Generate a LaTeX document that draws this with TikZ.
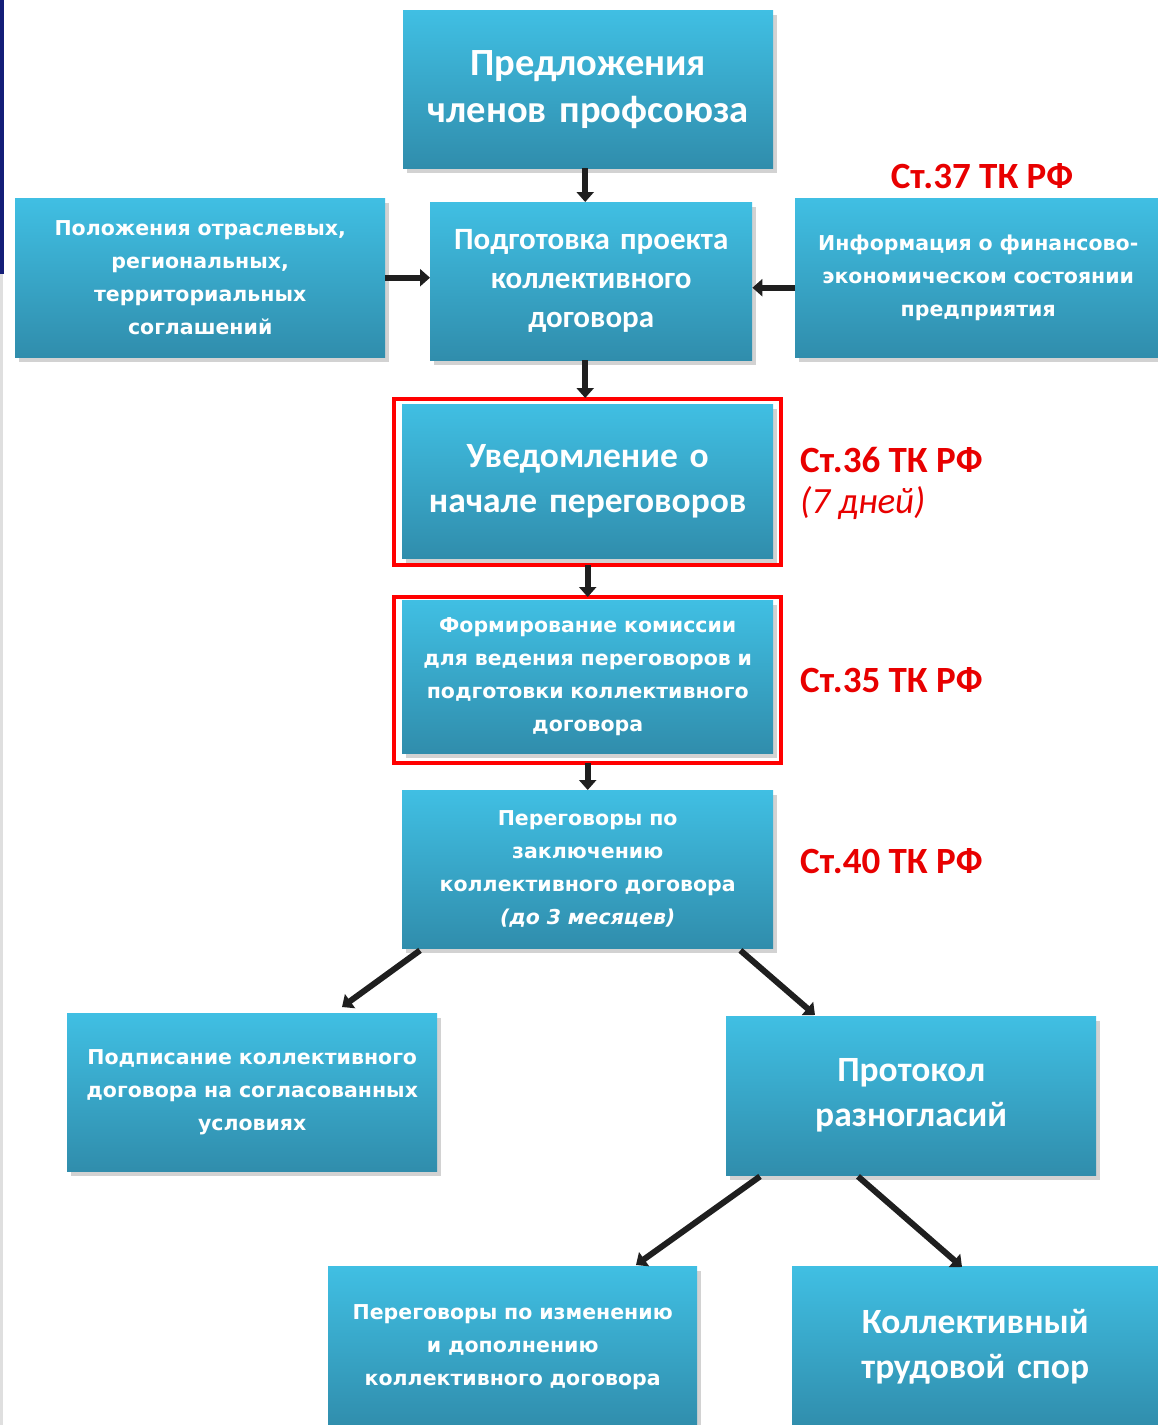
\documentclass[tikz,border=0pt]{standalone}
\usepackage{fontspec}
\setmainfont{Carlito}
\newfontfamily\verd{DejaVu Sans}
\usetikzlibrary{arrows.meta,shadows}
\definecolor{boxtop}{RGB}{64,191,227}
\definecolor{boxbot}{RGB}{48,141,172}
\definecolor{lawred}{RGB}{232,0,0}
\definecolor{slidebar}{RGB}{20,30,120}
\tikzset{
  stage/.style={anchor=north west, inner sep=0pt, text=white, align=center,
    top color=boxtop, bottom color=boxbot,
    drop shadow={opacity=0.35, shadow xshift=4pt, shadow yshift=-5pt}},
  bigtext/.style={font=\fontsize{35.5}{45}\selectfont\bfseries},
  smalltext/.style={font=\verd\fontsize{20.5}{33}\selectfont\bfseries},
  law/.style={text=lawred, anchor=west, inner sep=0pt, font=\fontsize{37}{44}\selectfont\bfseries},
  link/.style={->, line width=6pt, black!88},
  redframe/.style={draw=red, line width=4pt},
  >={Triangle[length=10pt,width=17pt]}
}
\begin{document}
\begin{tikzpicture}[x=1pt, y=-1pt]
  \useasboundingbox (0,0) rectangle (1158,1425);
  \clip (0,0) rectangle (1158,1425);
  \fill[white] (0,0) rectangle (1158,1425);
  \fill[slidebar] (0,0) rectangle (4,274);
  \fill[gray!25] (0,274) rectangle (3,1425);

  \node[stage, font=\fontsize{38.5}{47}\selectfont\bfseries, minimum width=370, minimum height=158, text width=360] (top) at (403,10) {Предложения\\членов профсоюза};
  \node[stage, smalltext, minimum width=370, minimum height=159, text width=364] (branch) at (15,198) {Положения отраслевых,\\региональных,\\территориальных\\соглашений};
  \node[stage, font=\fontsize{31}{39}\selectfont\bfseries, minimum width=322, minimum height=158, text width=312] (draft) at (430,202) {Подготовка проекта\\коллективного\\договора};
  \node[stage, smalltext, minimum width=366, minimum height=159, text width=362] (finance) at (795,198) {Информация о финансово-\\экономическом состоянии\\предприятия};
  \node[stage, bigtext, minimum width=371, minimum height=154, text width=361] (notice) at (402,404) {Уведомление о\\начале переговоров};
  \node[stage, smalltext, minimum width=371, minimum height=153, text width=367] (commission) at (402,600) {Формирование комиссии\\для ведения переговоров и\\подготовки коллективного\\договора};
  \node[stage, smalltext, minimum width=371, minimum height=158, text width=367] (talks) at (402,790) {Переговоры по\\заключению\\коллективного договора\\\textit{(до 3 месяцев)}};
  \node[stage, smalltext, minimum width=370, minimum height=158, text width=366] (sign) at (67,1013) {Подписание коллективного\\договора на согласованных\\условиях};
  \node[stage, bigtext, minimum width=370, minimum height=159, text width=360] (protocol) at (726,1016) {Протокол\\разногласий};
  \node[stage, smalltext, minimum width=369, minimum height=162, text width=365] (amend) at (328,1266) {Переговоры по изменению\\и дополнению\\коллективного договора};
  \node[stage, bigtext, minimum width=366, minimum height=162, text width=356] (dispute) at (792,1266) {Коллективный\\трудовой спор};

  \draw[redframe] ([xshift=-8pt,yshift=5pt]notice.north west) rectangle ([xshift=8pt,yshift=-7pt]notice.south east);
  \draw[redframe] ([xshift=-8pt,yshift=3pt]commission.north west) rectangle ([xshift=8pt,yshift=-10pt]commission.south east);

  \node[law, anchor=center] (art37) at (982,176) {Ст.37 ТК РФ};
  \node[law] (art36) at (800,460) {Ст.36 ТК РФ};
  \node[law, font=\fontsize{37}{44}\selectfont\itshape] (days) at (800,503) {(7 дней)};
  \node[law] (art35) at (800,680) {Ст.35 ТК РФ};
  \node[law] (art40) at (800,861) {Ст.40 ТК РФ};

  \draw[link] ([xshift=-3pt]top.south) -- ([xshift=-3pt]top.south |- draft.north);
  \draw[link] ([xshift=-6pt]draft.south) -- ([xshift=-6pt,yshift=6pt]draft.south |- notice.north);
  \draw[link] ([yshift=-7pt]notice.south) -- ([yshift=3pt]notice.south |- commission.north);
  \draw[link] ([yshift=-10pt]commission.south) -- (commission.south |- talks.north);
  \draw[link] (branch.east) -- (branch.east -| draft.west);
  \draw[link] ([yshift=-10pt]finance.west) -- ([yshift=-10pt]finance.west -| draft.east);
  \draw[link] ([xshift=18pt,yshift=-2pt]talks.south west) -- ([xshift=275pt,yshift=6pt]sign.north west);
  \draw[link] ([xshift=-33pt,yshift=-2pt]talks.south east) -- ([xshift=89pt,yshift=1pt]protocol.north west);
  \draw[link] ([xshift=34pt,yshift=-1pt]protocol.south west) -- ([xshift=308pt,yshift=1pt]amend.north west);
  \draw[link] ([xshift=132pt,yshift=-1pt]protocol.south west) -- ([xshift=170pt,yshift=-1pt]dispute.north west);
\end{tikzpicture}
\end{document}
